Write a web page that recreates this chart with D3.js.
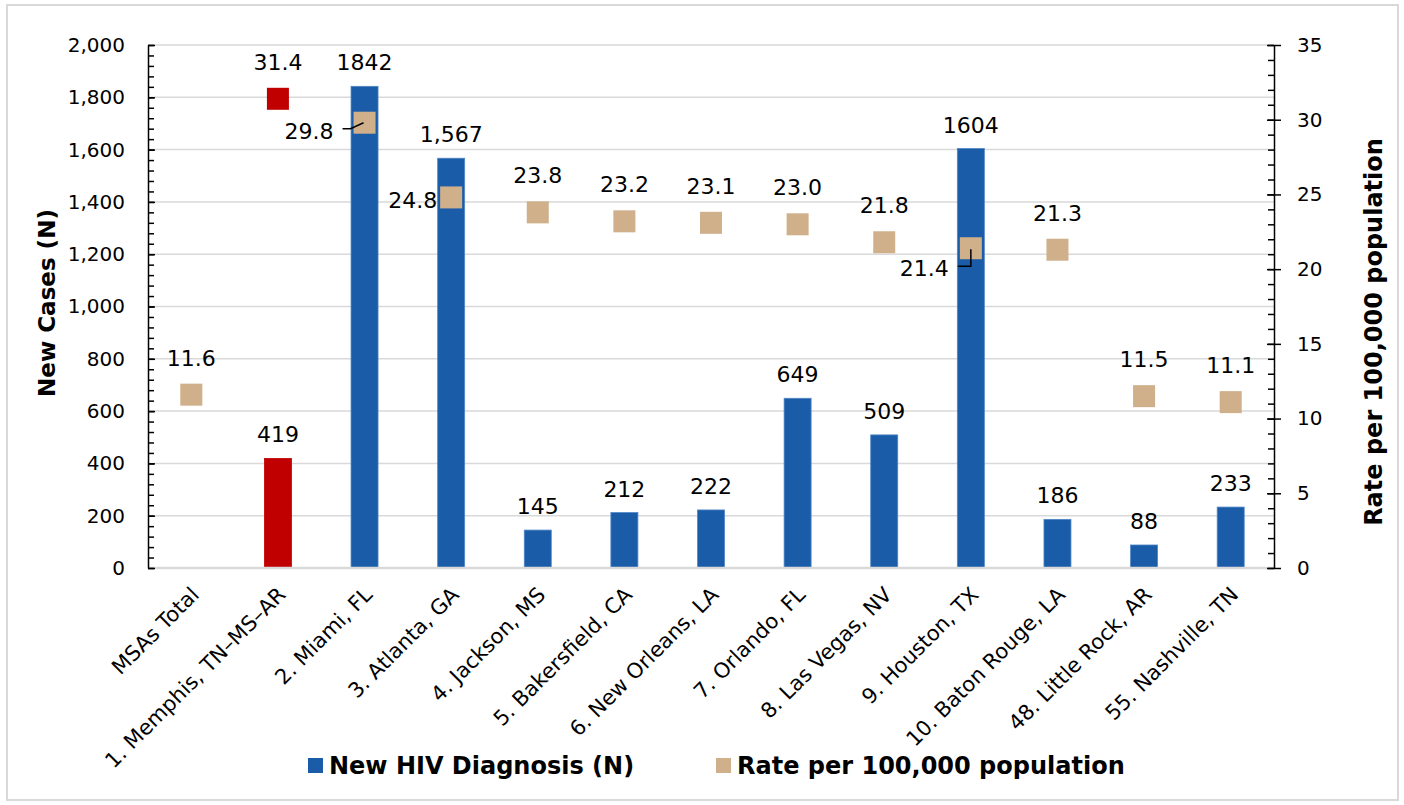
<!DOCTYPE html>
<html>
<head>
<meta charset="utf-8">
<script src="https://cdn.jsdelivr.net/npm/d3@7"></script>
<style>
  body { margin: 0; background: #fff; }
  svg { display: block; font-family: "DejaVu Sans", Verdana, sans-serif; }
</style>
</head>
<body>
<div id="chart"></div>
<script>
// Values
var categories = ["MSAs Total", "1. Memphis, TN\u2013MS\u2013AR", "2. Miami, FL", "3. Atlanta, GA",
  "4. Jackson, MS", "5. Bakersfield, CA", "6. New Orleans, LA", "7. Orlando, FL",
  "8. Las Vegas, NV", "9. Houston, TX", "10. Baton Rouge, LA", "48. Little Rock, AR", "55. Nashville, TN"];
var newCases = [null, 419, 1842, 1567, 145, 212, 222, 649, 509, 1604, 186, 88, 233];
var caseLabels = ["", "419", "1842", "1,567", "145", "212", "222", "649", "509", "1604", "186", "88", "233"];
var rates = [11.6, 31.4, 29.8, 24.8, 23.8, 23.2, 23.1, 23.0, 21.8, 21.4, 21.3, 11.5, 11.1];
var highlight = "1. Memphis, TN\u2013MS\u2013AR";
var leftTicks = [0, 200, 400, 600, 800, 1000, 1200, 1400, 1600, 1800, 2000];
var rightTicks = [0, 5, 10, 15, 20, 25, 30, 35];
var seriesNames = ["New HIV Diagnosis (N)", "Rate per 100,000 population"];

var width = 1404, height = 805;
var plot = {left: 148, right: 1274, top: 45, bottom: 568};
var blue = "#1a5ca8", red = "#c00000", tan = "#cfb08b", grid = "#d9d9d9";

var svg = d3.select("#chart").append("svg")
  .attr("width", width)
  .attr("height", height);

// outer frame
svg.append("rect")
  .attr("x", 7).attr("y", 5)
  .attr("width", 1391).attr("height", 795)
  .attr("fill", "none")
  .attr("stroke", grid)
  .attr("stroke-width", 2);

var x = d3.scaleBand().domain(categories).range([plot.left, plot.right]);
var yL = d3.scaleLinear().domain([0, 2000]).range([plot.bottom, plot.top]);
var yR = d3.scaleLinear().domain([0, 35]).range([plot.bottom, plot.top]);
var cx = d => x(d) + x.bandwidth() / 2;

// gridlines
svg.append("g")
  .selectAll("line")
  .data(leftTicks.slice(1))
  .join("line")
    .attr("x1", plot.left).attr("x2", plot.right)
    .attr("y1", d => yL(d)).attr("y2", d => yL(d))
    .attr("stroke", grid)
    .attr("stroke-width", 1.5);

// bars
var barW = 27;
var barData = categories.map((c, i) => ({c: c, v: newCases[i], label: caseLabels[i]})).filter(d => d.v != null);
svg.append("g")
  .selectAll("rect")
  .data(barData)
  .join("rect")
    .attr("x", d => cx(d.c) - barW / 2)
    .attr("y", d => yL(d.v))
    .attr("width", barW)
    .attr("height", d => yL(0) - yL(d.v))
    .attr("fill", d => d.c === highlight ? red : blue)
    .attr("stroke", d => d.c === highlight ? red : "#4f86c6")
    .attr("stroke-width", 0.8);

// zero line
svg.append("line")
  .attr("x1", plot.left).attr("x2", plot.right)
  .attr("y1", yL(0)).attr("y2", yL(0))
  .attr("stroke", grid)
  .attr("stroke-width", 2.5);

// left axis: major ticks cross the line, minor ticks inside
var leftAxis = svg.append("g")
  .attr("transform", `translate(${plot.left},0)`)
  .call(d3.axisLeft(yL).tickValues(leftTicks).tickFormat(d3.format(",")).tickSizeInner(7).tickSizeOuter(0).tickPadding(16));
leftAxis.selectAll(".tick line").attr("x2", 7);
svg.append("g")
  .attr("transform", `translate(${plot.left},0)`)
  .call(d3.axisLeft(yL).tickValues(d3.range(0, 2001, 40)).tickSize(-6).tickFormat(""))
  .call(g => g.select(".domain").remove());

var rightAxis = svg.append("g")
  .attr("transform", `translate(${plot.right},0)`)
  .call(d3.axisRight(yR).tickValues(rightTicks).tickSizeInner(7).tickSizeOuter(0).tickPadding(16));
rightAxis.selectAll(".tick line").attr("x2", -7).attr("x1", 7);
svg.append("g")
  .attr("transform", `translate(${plot.right},0)`)
  .call(d3.axisRight(yR).tickValues(d3.range(0, 35.01, 1)).tickSize(-6).tickFormat(""))
  .call(g => g.select(".domain").remove());

svg.selectAll(".tick line, .domain").attr("stroke", "#000").attr("stroke-width", 1.5);
leftAxis.selectAll("text").attr("font-size", 20).attr("fill", "#000").attr("font-family", "DejaVu Sans");
rightAxis.selectAll("text").attr("font-size", 20).attr("fill", "#000").attr("font-family", "DejaVu Sans");

// x labels rotated
svg.append("g")
  .selectAll("text")
  .data(categories)
  .join("text")
    .attr("transform", d => `translate(${cx(d) + 9},${596}) rotate(-45)`)
    .attr("text-anchor", "end")
    .attr("font-size", 21)
    .text(d => d);

// bar value labels
svg.append("g")
  .selectAll("text")
  .data(barData)
  .join("text")
    .attr("x", d => cx(d.c))
    .attr("y", d => yL(d.v) - 16)
    .attr("text-anchor", "middle")
    .attr("font-size", 22)
    .text(d => d.label);

// rate markers
var mk = 22;
var rateData = categories.map((c, i) => ({c: c, v: rates[i]}));
svg.append("g")
  .selectAll("rect")
  .data(rateData)
  .join("rect")
    .attr("x", d => cx(d.c) - mk / 2)
    .attr("y", d => yR(d.v) - mk / 2)
    .attr("width", mk)
    .attr("height", mk)
    .attr("fill", d => d.c === highlight ? red : tan);

// label offsets for the crowded points (index -> dx, dy, leader path)
var moved = {
  2: {dx: -31, dy: 16, leader: [[-22, 6], [-14, 6], [-1, 0]]},
  3: {dx: -14, dy: 11},
  9: {dx: -22, dy: 28, leader: [[-13, 18], [0, 18], [0, 1]]}
};
svg.append("g")
  .selectAll("text")
  .data(rateData)
  .join("text")
    .attr("x", (d, i) => cx(d.c) + (moved[i] ? moved[i].dx : 0))
    .attr("y", (d, i) => yR(d.v) + (moved[i] ? moved[i].dy : -29))
    .attr("text-anchor", (d, i) => moved[i] ? "end" : "middle")
    .attr("font-size", 22)
    .text(d => d.v.toFixed(1));

svg.append("g")
  .selectAll("path")
  .data(rateData.filter((d, i) => moved[i] && moved[i].leader).map(d => ({d: d, pts: moved[rateData.indexOf(d)].leader})))
  .join("path")
    .attr("d", o => d3.line()(o.pts.map(p => [cx(o.d.c) + p[0], yR(o.d.v) + p[1]])))
    .attr("fill", "none")
    .attr("stroke", "#000")
    .attr("stroke-width", 1.5);

// axis titles
svg.append("text")
  .attr("transform", "translate(55,303) rotate(-90)")
  .attr("text-anchor", "middle")
  .attr("font-size", 23)
  .attr("font-weight", "bold")
  .text("New Cases (N)");

svg.append("text")
  .attr("transform", "translate(1382,332) rotate(-90)")
  .attr("text-anchor", "middle")
  .attr("font-size", 24)
  .attr("font-weight", "bold")
  .text("Rate per 100,000 population");

// legend
var legend = svg.append("g");
var legendItems = [
  {name: seriesNames[0], color: blue, x: 308},
  {name: seriesNames[1], color: tan, x: 716}
];
legendItems.forEach(function (it) {
  legend.append("rect")
    .attr("x", it.x).attr("y", 758)
    .attr("width", 15).attr("height", 15)
    .attr("fill", it.color);
  legend.append("text")
    .attr("x", it.x + 21).attr("y", 774)
    .attr("font-size", 24)
    .attr("font-weight", "bold")
    .text(it.name);
});
</script>
</body>
</html>
